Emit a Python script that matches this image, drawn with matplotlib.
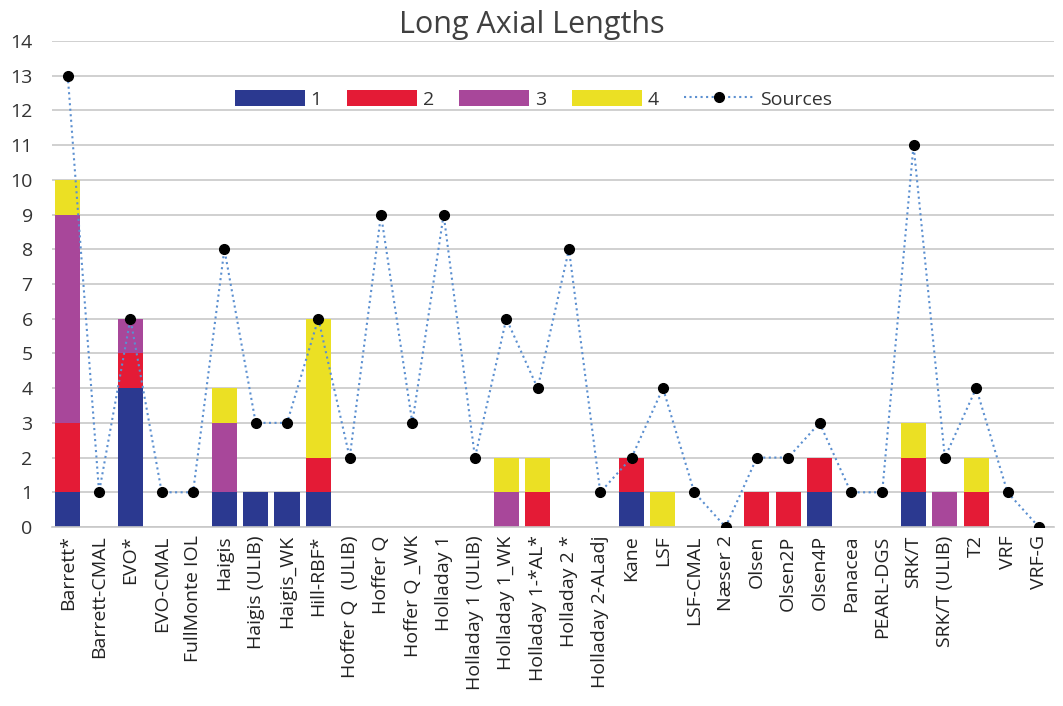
import numpy as np
import matplotlib
matplotlib.use("Agg")
from matplotlib import pyplot as plt

plt.rcParams['font.family'] = ['Open Sans', 'DejaVu Sans']

formulas = [
    "Barrett*", "Barrett-CMAL", "EVO*", "EVO-CMAL", "FullMonte IOL", "Haigis",
    "Haigis (ULIB)", "Haigis_WK", "Hill-RBF*", "Hoffer Q  (ULIB)", "Hoffer Q",
    "Hoffer Q _WK", "Holladay 1", "Holladay 1 (ULIB)", "Holladay 1_WK",
    "Holladay 1-*AL*", "Holladay 2 *", "Holladay 2-ALadj", "Kane", "LSF",
    "LSF-CMAL", "Næser 2", "Olsen", "Olsen2P", "Olsen4P", "Panacea",
    "PEARL-DGS", "SRK/T", "SRK/T (ULIB)", "T2", "VRF", "VRF-G",
]

# counts per rank, stacked bottom to top
rank1 = [1, 0, 4, 0, 0, 1, 1, 1, 1, 0, 0, 0, 0, 0, 0, 0, 0, 0, 1, 0, 0, 0, 0, 0, 1, 0, 0, 1, 0, 0, 0, 0]
rank2 = [2, 0, 1, 0, 0, 0, 0, 0, 1, 0, 0, 0, 0, 0, 0, 1, 0, 0, 1, 0, 0, 0, 1, 1, 1, 0, 0, 1, 0, 1, 0, 0]
rank3 = [6, 0, 1, 0, 0, 2, 0, 0, 0, 0, 0, 0, 0, 0, 1, 0, 0, 0, 0, 0, 0, 0, 0, 0, 0, 0, 0, 0, 1, 0, 0, 0]
rank4 = [1, 0, 0, 0, 0, 1, 0, 0, 4, 0, 0, 0, 0, 0, 1, 1, 0, 0, 0, 1, 0, 0, 0, 0, 0, 0, 0, 1, 0, 1, 0, 0]
sources = [13, 1, 6, 1, 1, 8, 3, 3, 6, 2, 9, 3, 9, 2, 6, 4, 8, 1, 2, 4, 1, 0, 2, 2, 3, 1, 1, 11, 2, 4, 1, 0]

rank_labels = ["1", "2", "3", "4"]
rank_colors = ["#2b3990", "#e41b36", "#a8479a", "#ebe024"]

fig = plt.figure(figsize=(10.63, 7.06), dpi=100)
ax = fig.add_axes([0.049, 0.2535, 0.943, 0.6885])

x = np.arange(len(formulas))
bottom = np.zeros(len(formulas))
handles = []
for vals, lab, col in zip([rank1, rank2, rank3, rank4], rank_labels, rank_colors):
    vals = np.array(vals, dtype=float)
    bars = ax.bar(x, vals, width=0.8, bottom=bottom, color=col, label=lab, zorder=2)
    handles.append(bars)
    bottom += vals

line, = ax.plot(x, sources, linestyle=':', color='#5b8fd0', linewidth=1.5,
                marker='o', markersize=7, markerfacecolor='black', markeredgecolor='black',
                label="Sources", zorder=3)
handles.append(line)

ax.set_xlim(-0.5, len(formulas) - 0.5)
ax.set_ylim(0, 14)
ax.set_yticks(range(0, 15))
ax.set_xticks(x)
ax.set_xticklabels(formulas, rotation=90, fontsize=14, color='#222222')
ax.tick_params(axis='y', labelsize=14, colors='#333333', length=0, pad=14)
ax.tick_params(axis='x', length=0, pad=6)
ax.yaxis.grid(True, color='#c8c8c8', linewidth=1.2, zorder=0)
ax.set_axisbelow(True)
for side in ['left', 'right', 'top']:
    ax.spines[side].set_visible(False)
ax.spines['bottom'].set_color('#c8c8c8')
ax.spines['bottom'].set_linewidth(1.2)

# chart title is centred on the whole figure, not the plot area
fig.text(0.5, 0.965, "Long Axial Lengths", fontsize=22, color='#404040',
         ha='center', va='center')

ax.legend(handles=handles, loc='upper center', bbox_to_anchor=(0.48, 0.935), ncol=5,
          frameon=False, fontsize=14, handlelength=3.6, handleheight=0.9,
          columnspacing=1.3, handletextpad=0.3, labelcolor='#333333')

fig.savefig("out.png", dpi=100)
